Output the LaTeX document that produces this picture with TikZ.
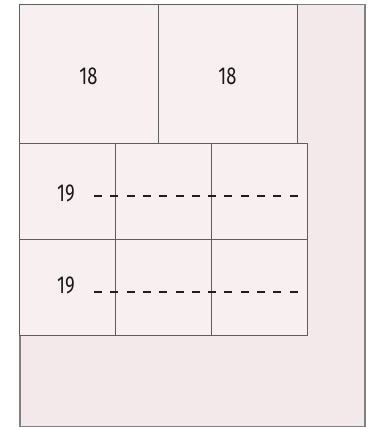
\documentclass[tikz,border=0pt]{standalone}
\usepackage{fontspec}
\newfontfamily\numfont[FakeStretch=0.75]{Fira Sans}
\definecolor{outerfill}{HTML}{F3E8EA}
\definecolor{cellfill}{HTML}{F8EFF1}
\definecolor{cellline}{HTML}{5E5E5E}
\definecolor{outerline}{HTML}{808080}
\definecolor{labeltext}{HTML}{1A1A1A}
\definecolor{dashcol}{HTML}{1E1E1E}
\tikzset{
  outerbox/.style={draw=outerline, fill=outerfill, line width=1.5pt, anchor=north west, inner sep=0pt},
  cell/.style={draw=cellline, fill=cellfill, line width=1.4pt, anchor=north west, inner sep=0pt},
  lbl/.style={font=\numfont\fontsize{24.5}{24.5}\selectfont, text=labeltext, inner sep=0pt},
  cutline/.style={line width=2pt, draw=dashcol, dash pattern=on 8pt off 8.3pt}
}
\begin{document}
\begin{tikzpicture}[x=1pt,y=-1pt]
\useasboundingbox (0,0) rectangle (368,427);
\node[outerbox, minimum width=345pt, minimum height=422pt] (outer) at (19,4) {};
% top row
\node[cell, minimum width=139pt, minimum height=139pt] (a) at (19,4) {};
\node[cell, minimum width=139pt, minimum height=139pt] (b) at (158,4) {};
% grid
\node[cell, minimum width=96pt, minimum height=96pt] (g11) at (19,143) {};
\node[cell, minimum width=96pt, minimum height=96pt] (g12) at (115,143) {};
\node[cell, minimum width=96pt, minimum height=96pt] (g13) at (211,143) {};
\node[cell, minimum width=96pt, minimum height=96pt] (g21) at (19,239) {};
\node[cell, minimum width=96pt, minimum height=96pt] (g22) at (115,239) {};
\node[cell, minimum width=96pt, minimum height=96pt] (g23) at (211,239) {};
% labels
\node[lbl] (la) at (88.5,76.5) {18};
\node[lbl] (lb) at (227.5,76.5) {18};
\node[lbl] (l1) at (66,193.5) {19};
\node[lbl] (l2) at (66,285) {19};
% dashed cut lines
\coordinate (c1s) at (94,196);
\coordinate (c1e) at (301,196);
\coordinate (c2s) at (94,292);
\coordinate (c2e) at (301,292);
\draw[cutline] (c1s) -- (c1e);
\draw[cutline] (c2s) -- (c2e);
\end{tikzpicture}
\end{document}
